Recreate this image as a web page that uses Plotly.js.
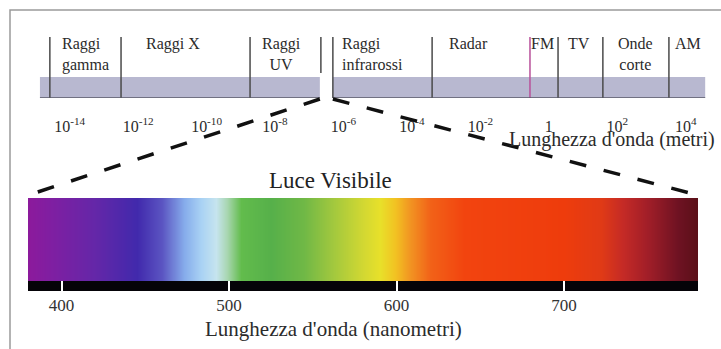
<!DOCTYPE html>
<html><head><meta charset="utf-8">
<script src="https://cdn.plot.ly/plotly-3.0.1.min.js"></script>
<style>html,body{margin:0;padding:0;background:#fff}#chart{width:721px;height:349px}</style>
</head><body><div id="chart"></div>
<script>
// ---- Top band: electromagnetic spectrum (positions = log10 of wavelength in metres) ----
var bandNames = ['Raggi<br>gamma', 'Raggi X', 'Raggi<br>UV', 'Raggi<br>infrarossi', 'Radar', 'FM', 'TV', 'Onde<br>corte', 'AM'];
var bandLabelPos = [-13.55, -10.97, -7.80, -5.16, -2.36, -0.17, 0.87, 2.53, 4.08];
var bandDividers = [-14.58, -12.50, -8.73, -6.31, -3.41, 0.27, 1.58, 3.51];
var fmDivider = [-0.55];
var visibleGap = [-6.69, -6.31];
var bandExtent = [-14.87, 4.57];
var meterExponents = [-14, -12, -10, -8, -6, -4, -2, 0, 2, 4];

// ---- Bottom: visible light (nanometres) ----
var nmRange = [380, 780];
var nmTicks = [400, 500, 600, 700];
var connectorNm = [384, 775];
var spectrumWl = [380, 395, 420, 445, 460, 473, 483, 492, 499, 507, 525, 545, 562, 580, 590, 599, 608, 620, 640, 700, 722, 735, 750, 768, 780];
var spectrumColors = ['#8c1a9c', '#7e1fa2', '#6427a8', '#4129ac', '#5b55c2', '#86aceb', '#a9d2f4', '#c6e4ee', '#a8d6b0', '#62bc4c',
  '#56b04a', '#70b846', '#a2c83e', '#d2d832', '#e8e02a', '#f2c222', '#f29422', '#f26218', '#f2440f', '#ee3c0c',
  '#e03a16', '#c42a26', '#a01e28', '#6e1222', '#5a1018'];

var W = 721, H = 349;
function py(p) { return 1 - p / H; }
function px(p) { return p / W; }

var x2Range = [-16.037, 5.032];
var xDomain = [28 / W, 698 / W];
function x2ToPaper(v) { return (v - x2Range[0]) / (x2Range[1] - x2Range[0]); }
function xToPaper(v) { return xDomain[0] + (v - nmRange[0]) / (nmRange[1] - nmRange[0]) * (xDomain[1] - xDomain[0]); }

var meterTickText = meterExponents.map(function (e) {
  return e === 0 ? '1' : '10<sup>' + (e < 0 ? '-' : '') + Math.abs(e) + '</sup>';
});

var serif = 'Liberation Serif, Times New Roman, serif';
var traces = [];

traces.push({
  type: 'heatmap', x: spectrumWl, y: [0, 0.5, 1], z: [spectrumWl, spectrumWl],
  zmin: nmRange[0], zmax: nmRange[1], zsmooth: 'best', showscale: false, hoverinfo: 'skip',
  colorscale: spectrumWl.map(function (w, i) { return [(w - nmRange[0]) / (nmRange[1] - nmRange[0]), spectrumColors[i]]; }),
  xaxis: 'x', yaxis: 'y'
});

function vlines(xs, y0, y1) {
  var X = [], Y = [];
  xs.forEach(function (v) { X.push(v, v, null); Y.push(y0, y1, null); });
  return { x: X, y: Y };
}
var d = vlines(bandDividers, 0, 1);
traces.push({ type: 'scatter', mode: 'lines', x: d.x, y: d.y, line: { color: '#4a4a4a', width: 1.5 }, hoverinfo: 'skip', xaxis: 'x2', yaxis: 'y2' });
var g = vlines([visibleGap[0] + 0.03], 0.41, 1);
traces.push({ type: 'scatter', mode: 'lines', x: g.x, y: g.y, line: { color: '#4a4a4a', width: 1.5 }, hoverinfo: 'skip', xaxis: 'x2', yaxis: 'y2' });
var f = vlines(fmDivider, 0, 1);
traces.push({ type: 'scatter', mode: 'lines', x: f.x, y: f.y, line: { color: '#b8509a', width: 1.5 }, hoverinfo: 'skip', xaxis: 'x2', yaxis: 'y2' });

var shapes = [
  { type: 'rect', xref: 'x2', yref: 'y2', x0: bandExtent[0], x1: visibleGap[0], y0: 0, y1: 0.344, fillcolor: '#b8b8d0', line: { width: 0 }, layer: 'below' },
  { type: 'rect', xref: 'x2', yref: 'y2', x0: visibleGap[1], x1: bandExtent[1], y0: 0, y1: 0.344, fillcolor: '#b8b8d0', line: { width: 0 }, layer: 'below' },
  { type: 'line', xref: 'x2', yref: 'y2', x0: bandExtent[0], x1: visibleGap[0], y0: 0, y1: 0, line: { color: '#5a5a68', width: 1.5 } },
  { type: 'line', xref: 'x2', yref: 'y2', x0: visibleGap[1], x1: bandExtent[1], y0: 0, y1: 0, line: { color: '#5a5a68', width: 1.5 } },
  { type: 'rect', xref: 'x', yref: 'y', x0: nmRange[0], x1: nmRange[1], y0: -0.12, y1: 0, fillcolor: '#050308', line: { width: 0 }, layer: 'below' },
  { type: 'line', xref: 'paper', yref: 'paper', x0: x2ToPaper(visibleGap[0]), y0: py(99), x1: xToPaper(connectorNm[0]), y1: py(193), line: { color: '#111', width: 3.5, dash: '17px,18px' } },
  { type: 'line', xref: 'paper', yref: 'paper', x0: x2ToPaper(visibleGap[1]), y0: py(99), x1: xToPaper(connectorNm[1]), y1: py(193), line: { color: '#111', width: 3.5, dash: '17px,18px' } },
  { type: 'rect', xref: 'paper', yref: 'paper', x0: px(10), x1: 1.05, y0: -0.05, y1: py(10), line: { color: '#9a9a9a', width: 1.5 }, fillcolor: 'rgba(0,0,0,0)' }
];

var annotations = bandNames.map(function (n, i) {
  return { xref: 'x2', yref: 'y2', x: bandLabelPos[i], y: 1.07, yanchor: 'top', xanchor: 'center', text: n, showarrow: false,
    align: (i === 0 || i === 3) ? 'left' : 'center', font: { family: serif, size: 16, color: '#2b2b2b' } };
});
annotations.push({ xref: 'paper', yref: 'paper', x: px(612), y: py(139), xanchor: 'center', yanchor: 'middle', text: "Lunghezza d'onda (metri)", showarrow: false, font: { family: serif, size: 20, color: '#2b2b2b' } });
annotations.push({ xref: 'paper', yref: 'paper', x: px(330), y: py(180), xanchor: 'center', yanchor: 'middle', text: 'Luce Visibile', showarrow: false, font: { family: serif, size: 23, color: '#222' } });
annotations.push({ xref: 'paper', yref: 'paper', x: px(333), y: py(329), xanchor: 'center', yanchor: 'middle', text: "Lunghezza d'onda (nanometri)", showarrow: false, font: { family: serif, size: 21, color: '#2b2b2b' } });

var layout = {
  width: W, height: H, margin: { l: 0, r: 0, t: 0, b: 0 }, paper_bgcolor: '#fff', plot_bgcolor: 'rgba(0,0,0,0)',
  showlegend: false, font: { family: serif, color: '#2b2b2b' },
  xaxis: { domain: xDomain, range: nmRange, anchor: 'y', tickvals: nmTicks, ticks: 'inside', ticklen: 10, tickwidth: 2, tickcolor: '#ffffff',
    showgrid: false, zeroline: false, showline: false, tickfont: { family: serif, size: 17, color: '#333' }, ticklabelstandoff: 2, fixedrange: true },
  yaxis: { domain: [py(291), py(198)], range: [-0.12, 1], visible: false, fixedrange: true },
  xaxis2: { domain: [0, 1], range: x2Range, anchor: 'y2', tickvals: meterExponents, ticktext: meterTickText, ticks: '',
    showgrid: false, zeroline: false, showline: false, tickfont: { family: serif, size: 16, color: '#2b2b2b' }, ticklabelstandoff: 17, fixedrange: true },
  yaxis2: { domain: [py(98), py(28)], range: [0, 70 / 61], visible: false, fixedrange: true, anchor: 'x2' },
  shapes: shapes, annotations: annotations
};

Plotly.newPlot('chart', traces, layout, { displayModeBar: false, staticPlot: true });
</script>
</body></html>
